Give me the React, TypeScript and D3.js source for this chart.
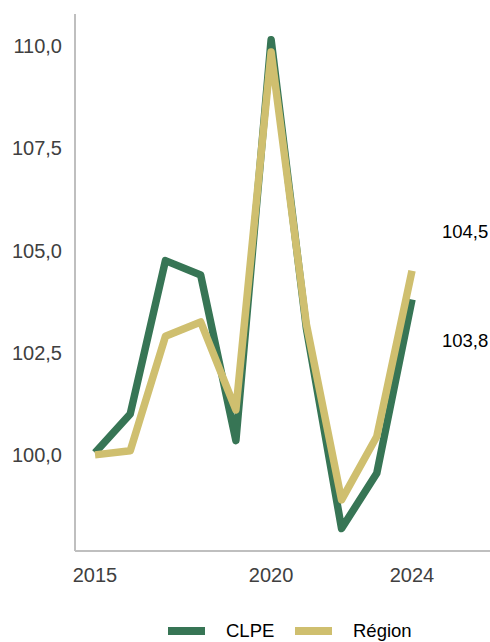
import React from "react";
import * as d3 from "d3";

const years = [2015, 2016, 2017, 2018, 2019, 2020, 2021, 2022, 2023, 2024];
const clpe = [100.05, 101.0, 104.75, 104.4, 100.35, 110.15, 103.1, 98.2, 99.55, 103.8];
const region = [100.0, 100.1, 102.9, 103.25, 101.1, 109.85, 103.2, 98.9, 100.45, 104.5];
const yTicks = [100, 102.5, 105, 107.5, 110];
const xTicks = [2015, 2020, 2024];
const seriesNames = ["CLPE", "Région"];
const colors = ["#377555", "#cfbf6f"];
const endLabels = ["103,8", "104,5"];

const W = 490;
const H = 642;

export default function App() {
  const x = d3.scaleLinear().domain([2015, 2024]).range([95, 412]);
  const y = d3.scaleLinear().domain([97.65, 110.78]).range([551, 14]);
  const line = d3
    .line<number>()
    .x((_, i) => x(years[i]))
    .y((d) => y(d));
  const fmt = (v: number) => d3.format(".1f")(v).replace(".", ",");
  const font = "Arial, 'Liberation Sans', sans-serif";
  const series = [clpe, region];

  return (
    <svg
      width={W}
      height={H}
      style={{ position: "absolute", left: 0, top: 0, background: "#fff" }}
      fontFamily={font}
    >
      <line x1={75} x2={75} y1={14} y2={551} stroke="#bfbfbf" strokeWidth={2} />
      <line x1={75} x2={490} y1={551} y2={551} stroke="#bfbfbf" strokeWidth={2} />
      {yTicks.map((t) => (
        <text
          key={t}
          x={62}
          y={y(t)}
          dy="0.36em"
          textAnchor="end"
          fontSize={20}
          fill="#404040"
        >
          {fmt(t)}
        </text>
      ))}
      {xTicks.map((t) => (
        <text
          key={t}
          x={x(t)}
          y={582}
          textAnchor="middle"
          fontSize={20}
          fill="#404040"
        >
          {t}
        </text>
      ))}
      {series.map((s, i) => (
        <path
          key={i}
          d={line(s) || ""}
          fill="none"
          stroke={colors[i]}
          strokeWidth={7.5}
          strokeLinejoin="round"
          strokeLinecap="butt"
        />
      ))}
      <text x={442} y={238} fontSize={18.5} fill="#000">
        {endLabels[1]}
      </text>
      <text x={442} y={347} fontSize={18.5} fill="#000">
        {endLabels[0]}
      </text>
      {seriesNames.map((n, i) => {
        const lx = i === 0 ? 168 : 295;
        return (
          <g key={n}>
            <rect x={lx} y={627} width={37} height={8} fill={colors[i]} />
            <text x={lx + 58} y={637} fontSize={18.5} fill="#000">
              {n}
            </text>
          </g>
        );
      })}
    </svg>
  );
}
